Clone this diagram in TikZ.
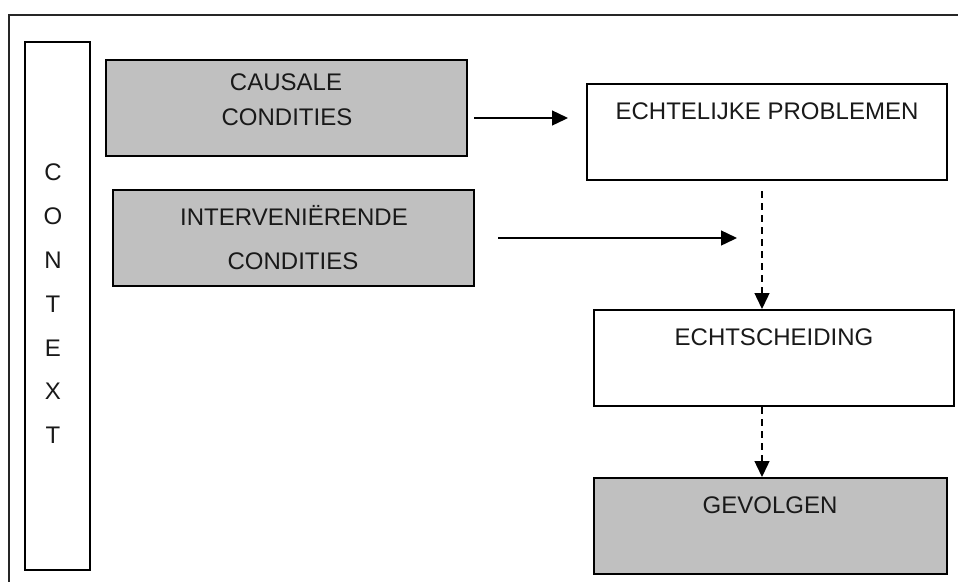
\documentclass[tikz,border=0pt]{standalone}
\usepackage{fontspec}
\setmainfont{Liberation Sans}
\usetikzlibrary{arrows.meta}
\definecolor{boxgray}{HTML}{C0C0C0}
\begin{document}
\begin{tikzpicture}[x=1pt,y=-1pt,
  box/.style={draw=black,line width=2pt,minimum height=96pt,inner sep=0pt},
  graybox/.style={box,fill=boxgray},
  lbl/.style={anchor=base,inner sep=0pt,font=\fontsize{24}{28}\selectfont,text=black!90},
  arr/.style={line width=1.4pt,-{Triangle[length=16pt,width=15pt]}},
  darr/.style={arr,dash pattern=on 7pt off 5pt}]
\useasboundingbox (0,0) rectangle (958,582);
\fill[white] (0,0) rectangle (958,582);
% outer frame
\draw[line width=1.6pt,black!85] (958,15) -- (9,15) -- (9,582);
% boxes
\node[box,minimum width=65pt,minimum height=528pt] (ctx) at (57.5,306) {};
\node[graybox,minimum width=361pt] (caus) at (286.5,108) {};
\node[graybox,minimum width=361pt] (interv) at (293.5,238) {};
\node[box,minimum width=360pt] (echt) at (767,132) {};
\node[box,minimum width=360pt] (schei) at (774,358) {};
\node[graybox,minimum width=353pt] (gev) at (770.5,526) {};
% labels
\node[lbl] (l1) at (286,90.5) {CAUSALE};
\node[lbl] (l2) at (287,125.5) {CONDITIES};
\node[lbl] (l3) at (294,225) {INTERVENIËRENDE};
\node[lbl] (l4) at (293,269.5) {CONDITIES};
\node[lbl] (l5) at (767,119) {ECHTELIJKE PROBLEMEN};
\node[lbl] (l6) at (774,345.5) {ECHTSCHEIDING};
\node[lbl] (l7) at (770,513) {GEVOLGEN};
% context letters
\foreach \ch/\yy [count=\i] in {C/172,O/216,N/260,T/304,E/348,X/391,T/435}
  \node[lbl] (c\i) at (53,\yy+8.5) {\ch};
% arrows
\draw[arr] ([shift={(6,10)}]caus.east) -- ([shift={(-18,-14)}]echt.west);
\coordinate (join) at ([xshift=-5]echt.south |- interv.east);
\draw[arr] ([xshift=23]interv.east) -- ([xshift=-25]join);
\draw[darr] ([shift={(-5,10)}]echt.south) -- ([xshift=-12]schei.north);
\draw[darr] ([xshift=-12]schei.south) -- ([xshift=-8.5]gev.north);
\end{tikzpicture}
\end{document}
